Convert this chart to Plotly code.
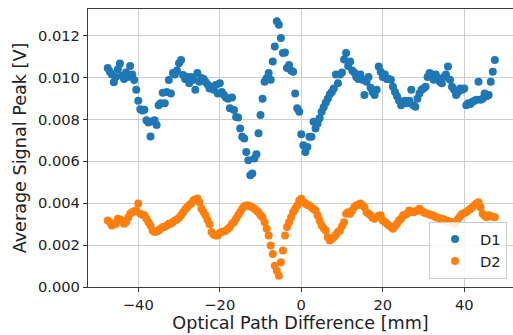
import numpy as np
import plotly.graph_objects as go

# Stage positions (optical path difference, mm)
opd_mm = np.arange(-47.5, 47.51, 0.5)

# Average signal peak on detector D1 [V]
d1_peak = [
    0.01045, 0.01029, 0.01014, 0.00977, 0.01003, 0.01039, 0.01067, 0.01008, 0.00993, 0.01024,
    0.01003, 0.01055, 0.01014, 0.00988, 0.00941, 0.00889, 0.00848, 0.00842, 0.00846, 0.00796,
    0.00785, 0.00718, 0.00791, 0.00796, 0.00773, 0.00868, 0.00877, 0.00927, 0.00877, 0.00931,
    0.00988, 0.00924, 0.01021, 0.01014, 0.01034, 0.01068, 0.01084, 0.01012, 0.00993, 0.01003,
    0.00972, 0.01003, 0.00989, 0.00941, 0.01021, 0.00980, 0.00998, 0.00993, 0.00980, 0.00967,
    0.00948, 0.00956, 0.00941, 0.00964, 0.00924, 0.00972, 0.00931, 0.00916, 0.00905, 0.00899,
    0.00853, 0.00905, 0.00845, 0.00812, 0.00809, 0.00756, 0.00717, 0.00709, 0.00644, 0.00605,
    0.00533, 0.00542, 0.00613, 0.00634, 0.00734, 0.00821, 0.00899, 0.00980, 0.00996, 0.01021,
    0.00989, 0.01076, 0.01148, 0.01268, 0.01252, 0.01188, 0.01117, 0.01119, 0.01045, 0.01060,
    0.01034, 0.01028, 0.00924, 0.00853, 0.00837, 0.00729, 0.00677, 0.00644, 0.00668, 0.00717,
    0.00717, 0.00789, 0.00756, 0.00781, 0.00806, 0.00837, 0.00858, 0.00879, 0.00899, 0.00920,
    0.00931, 0.00948, 0.01014, 0.00972, 0.01014, 0.01024, 0.01086, 0.01117, 0.01055, 0.01076,
    0.01034, 0.01024, 0.01003, 0.00993, 0.01014, 0.00989, 0.00916, 0.00980, 0.01003, 0.00951,
    0.00931, 0.00916, 0.00941, 0.01052, 0.01028, 0.01003, 0.01014, 0.00993, 0.00993, 0.00989,
    0.00956, 0.00931, 0.00910, 0.00889, 0.00868, 0.00884, 0.00889, 0.00877, 0.00889, 0.00941,
    0.00868, 0.00860, 0.00899, 0.00924, 0.00941, 0.00948, 0.00956, 0.01003, 0.01021, 0.01014,
    0.00989, 0.01014, 0.00996, 0.00980, 0.00972, 0.01003, 0.01014, 0.01052, 0.00989, 0.00956,
    0.00941, 0.00916, 0.00931, 0.00948, 0.00941, 0.00948, 0.00868, 0.00877, 0.00874, 0.00884,
    0.00889, 0.00894, 0.00980, 0.00894, 0.00899, 0.00924, 0.00910, 0.00916, 0.00980, 0.01028,
    0.01084,
]

# Average signal peak on detector D2 [V]
d2_peak = [
    0.00318, 0.00310, 0.00294, 0.00300, 0.00302, 0.00326, 0.00322, 0.00318, 0.00302, 0.00309,
    0.00330, 0.00350, 0.00357, 0.00362, 0.00365, 0.00398, 0.00350, 0.00345, 0.00342, 0.00326,
    0.00309, 0.00294, 0.00270, 0.00262, 0.00265, 0.00270, 0.00278, 0.00286, 0.00286, 0.00294,
    0.00302, 0.00302, 0.00310, 0.00318, 0.00322, 0.00330, 0.00342, 0.00357, 0.00370, 0.00381,
    0.00392, 0.00398, 0.00413, 0.00418, 0.00422, 0.00405, 0.00374, 0.00358, 0.00342, 0.00320,
    0.00300, 0.00262, 0.00250, 0.00246, 0.00246, 0.00258, 0.00262, 0.00265, 0.00270, 0.00278,
    0.00286, 0.00302, 0.00310, 0.00326, 0.00342, 0.00358, 0.00374, 0.00385, 0.00389, 0.00389,
    0.00385, 0.00381, 0.00374, 0.00365, 0.00357, 0.00342, 0.00333, 0.00309, 0.00278, 0.00246,
    0.00198, 0.00158, 0.00102, 0.00078, 0.00054, 0.00118, 0.00174, 0.00246, 0.00286, 0.00309,
    0.00333, 0.00357, 0.00374, 0.00389, 0.00413, 0.00421, 0.00405, 0.00398, 0.00392, 0.00389,
    0.00381, 0.00372, 0.00365, 0.00342, 0.00318, 0.00294, 0.00280, 0.00270, 0.00238, 0.00222,
    0.00230, 0.00238, 0.00250, 0.00262, 0.00270, 0.00290, 0.00309, 0.00350, 0.00357, 0.00350,
    0.00365, 0.00381, 0.00389, 0.00392, 0.00398, 0.00390, 0.00381, 0.00357, 0.00350, 0.00342,
    0.00330, 0.00326, 0.00333, 0.00340, 0.00342, 0.00318, 0.00310, 0.00302, 0.00294, 0.00286,
    0.00278, 0.00290, 0.00302, 0.00318, 0.00326, 0.00342, 0.00345, 0.00350, 0.00365, 0.00360,
    0.00357, 0.00362, 0.00365, 0.00374, 0.00365, 0.00357, 0.00352, 0.00350, 0.00346, 0.00342,
    0.00340, 0.00333, 0.00330, 0.00328, 0.00326, 0.00322, 0.00318, 0.00315, 0.00312, 0.00309,
    0.00302, 0.00310, 0.00326, 0.00338, 0.00350, 0.00352, 0.00358, 0.00365, 0.00372, 0.00381,
    0.00390, 0.00398, 0.00405, 0.00381, 0.00350, 0.00340, 0.00333, 0.00342, 0.00338, 0.00335,
    0.00333,
]

x_ticks = [-40, -20, 0, 20, 40]
y_ticks = [0.000, 0.002, 0.004, 0.006, 0.008, 0.010, 0.012]

FONT = "DejaVu Sans"
TICK_SIZE = 14.7
LABEL_SIZE = 17.6

fig = go.Figure()
fig.add_trace(go.Scatter(
    x=opd_mm, y=d1_peak, mode="markers", name="D1",
    marker=dict(color="#1f77b4", size=8, line=dict(width=0)),
))
fig.add_trace(go.Scatter(
    x=opd_mm, y=d2_peak, mode="markers", name="D2",
    marker=dict(color="#ff7f0e", size=8, line=dict(width=0)),
))

axis_common = dict(
    showgrid=True, gridcolor="#cdcdcd", gridwidth=1.3,
    zeroline=False, showline=True, linecolor="#3a3a3a", linewidth=1.2,
    ticks="outside", ticklen=4, tickwidth=1.1, tickcolor="#3a3a3a",
    tickfont=dict(family=FONT, size=TICK_SIZE, color="#222222"),
)

fig.update_layout(
    width=513, height=335,
    margin=dict(l=88, r=0, t=9, b=48),
    paper_bgcolor="white", plot_bgcolor="white",
    font=dict(family=FONT, color="#222222"),
    xaxis=dict(
        **axis_common, range=[-52.34, 51.96], tickvals=x_ticks, mirror=True,
        title=dict(text="Optical Path Difference [mm]",
                   font=dict(family=FONT, size=LABEL_SIZE, color="#222222"), standoff=2),
    ),
    yaxis=dict(
        **axis_common, range=[0, 0.01327], tickvals=y_ticks, tickformat=".3f",
        title=dict(text="Average Signal Peak [V]",
                   font=dict(family=FONT, size=LABEL_SIZE, color="#222222"), standoff=6),
    ),
    legend=dict(
        x=0.986, y=0.029, xanchor="right", yanchor="bottom",
        bgcolor="rgba(255,255,255,0.85)", bordercolor="#cccccc", borderwidth=1,
        font=dict(family=FONT, size=TICK_SIZE, color="#222222"),
        itemwidth=40, tracegroupgap=2,
    ),
    showlegend=True,
)

fig.write_html("out.html")
